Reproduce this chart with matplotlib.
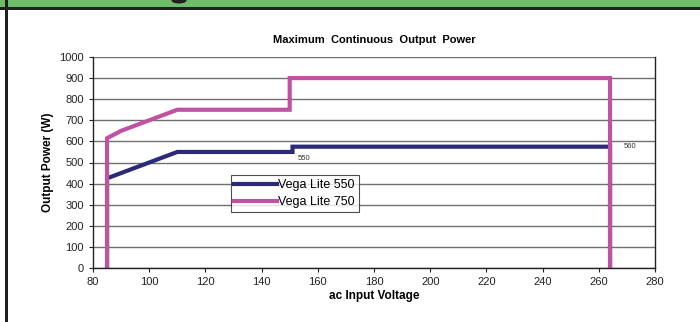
import matplotlib
matplotlib.use("Agg")
import matplotlib.pyplot as plt
from matplotlib.patches import Rectangle, Ellipse

plt.rcParams['font.family'] = ['Liberation Sans', 'DejaVu Sans']

# Vega Lite 550
v550_x = [85, 85, 110, 151, 151, 264, 264]
v550_y = [0, 425, 550, 550, 575, 575, 0]
# Vega Lite 750
v750_x = [85, 85, 90, 110, 150, 150, 264, 264]
v750_y = [0, 615, 650, 750, 750, 900, 900, 0]

x_ticks = [80, 100, 120, 140, 160, 180, 200, 220, 240, 260, 280]
y_ticks = [0, 100, 200, 300, 400, 500, 600, 700, 800, 900, 1000]

navy = '#2a2a78'
magenta = '#c052a2'

W, H = 700, 322
fig = plt.figure(figsize=(7, 3.22), dpi=100, facecolor='w')

# page decoration: green header band, dark rule, left border
fig.patches.append(Rectangle((0, 1 - 7 / H), 1, 7 / H, transform=fig.transFigure,
                             facecolor='#6cbf68', edgecolor='none'))
# bottom of a cut-off heading letter in the band
fig.patches.append(Ellipse((179 / W, 1 - 0.5 / H), 15 / W, 6 / H, transform=fig.transFigure,
                           facecolor='#231f20', edgecolor='none'))
fig.patches.append(Rectangle((0, 1 - 10 / H), 1, 3 / H, transform=fig.transFigure,
                             facecolor='#231f20', edgecolor='none'))
fig.patches.append(Rectangle((5 / W, 0), 2.5 / W, 1, transform=fig.transFigure,
                             facecolor='#231f20', edgecolor='none'))

ax = fig.add_axes([93 / W, 54 / H, 562 / W, 211 / H])

ax.plot(v550_x, v550_y, color=navy, lw=3, label='Vega Lite 550', solid_joinstyle='miter')
ax.plot(v750_x, v750_y, color=magenta, lw=3, label='Vega Lite 750', solid_joinstyle='miter')

ax.text(153, 520, '550', fontsize=5.5, color='#333333', va='center')
ax.text(269, 575, '560', fontsize=5.5, color='#333333', va='center')

ax.set_xlim(80, 280)
ax.set_ylim(0, 1000)
ax.set_xticks(x_ticks)
ax.set_yticks(y_ticks)
ax.tick_params(labelsize=8, length=3, width=0.8, direction='out', colors='#222222')
ax.yaxis.grid(True, color='#707070', lw=1)
ax.set_axisbelow(True)
for s in ax.spines.values():
    s.set_color('#222222')
    s.set_linewidth(1)
ax.spines['top'].set_visible(False)

ax.set_title('Maximum  Continuous  Output  Power', fontsize=8, fontweight='bold', pad=10)
ax.set_xlabel('ac Input Voltage', fontsize=8.5, fontweight='bold', labelpad=2)
ax.set_ylabel('Output Power (W)', fontsize=8.5, fontweight='bold', labelpad=4)

leg = ax.legend(loc='upper left', bbox_to_anchor=(0.245, 0.44), fontsize=9, frameon=True,
                fancybox=False, edgecolor='#222222', handlelength=3.4, handletextpad=0.1,
                borderpad=0.3, labelspacing=0.4, borderaxespad=0)
leg.get_frame().set_linewidth(0.8)

fig.savefig('out.png', dpi=100)
